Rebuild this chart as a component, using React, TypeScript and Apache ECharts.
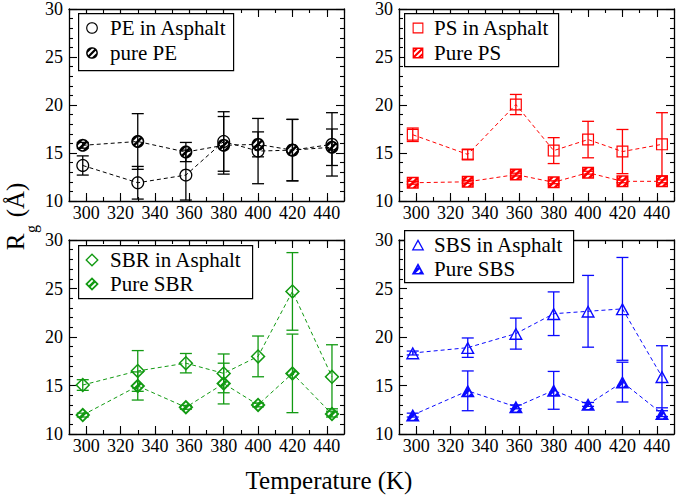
import React, { useEffect, useRef } from 'react';
import * as echarts from 'echarts';

// ---------- data ----------
const temps = [298, 330, 358, 380, 400, 420, 443];

const peAsphalt = [13.7, 11.9, 12.7, 16.2, 15.2, 15.3, 15.9];
const peAsphaltErr = [1.0, 1.7, 2.6, 3.1, 3.4, 3.2, 3.3];
const pePure = [15.8, 16.2, 15.1, 15.8, 15.9, 15.3, 15.6];
const pePureErr = [0.3, 2.9, 1.0, 3.0, 1.3, 3.2, 1.9];

const psAsphalt = [16.9, 14.85, 20.05, 15.25, 16.4, 15.15, 15.9];
const psAsphaltErr = [0.7, 0.5, 1.05, 1.35, 1.9, 2.3, 3.3];
const psPure = [11.9, 12.0, 12.75, 11.95, 12.95, 12.05, 12.05];
const psPureErr = [0.15, 0.15, 0.15, 0.15, 0.15, 0.15, 0.15];

const sbrAsphalt = [15.05, 16.5, 17.3, 16.25, 18.0, 24.7, 15.9];
const sbrAsphaltErr = [0.55, 2.1, 1.0, 2.0, 2.1, 4.0, 3.3];
const sbrPure = [11.95, 14.95, 12.75, 15.2, 13.0, 16.25, 12.05];
const sbrPureErr = [0.2, 1.45, 0.2, 2.1, 0.2, 4.05, 0.3];

const sbsAsphalt = [18.35, 18.9, 20.35, 22.4, 22.65, 22.9, 15.9];
const sbsAsphaltErr = [0.2, 1.0, 1.6, 2.25, 3.7, 5.3, 3.2];
const sbsPure = [11.95, 14.45, 12.8, 14.5, 13.05, 15.35, 12.1];
const sbsPureErr = [0.2, 2.05, 0.2, 1.95, 0.2, 2.05, 0.3];

// x tick grid (every 10 K, labels on multiples of 20)
const xCategories = ['290', '300', '310', '320', '330', '340', '350', '360', '370', '380', '390', '400', '410', '420', '430', '440', '450'];
const xLabelValues = ['300', '320', '340', '360', '380', '400', '420', '440'];

const legendNames = [
  ['PE in Asphalt', 'pure PE'],
  ['PS in Asphalt', 'Pure PS'],
  ['SBR in Asphalt', 'Pure SBR'],
  ['SBS in Asphalt', 'Pure SBS'],
];

const xTitle = 'Temperature (K)';

// ---------- styling / layout ----------
const FONT = 'Liberation Serif';

const panels = [
  { color: '#000000', shape: 'circle', size: 13, grid: { left: 69, top: 7, width: 275, height: 194 },
    legend: { x: 78, y: 13, w: 155, h: 57, mx: 92, tx: 110, rows: [28, 53] },
    asph: peAsphalt, asphErr: peAsphaltErr, pure: pePure, pureErr: pePureErr },
  { color: '#ff0000', shape: 'square', size: 12, grid: { left: 399, top: 7, width: 275, height: 194 },
    legend: { x: 404, y: 13, w: 154, h: 53, mx: 418, tx: 434, rows: [28, 53] },
    asph: psAsphalt, asphErr: psAsphaltErr, pure: psPure, pureErr: psPureErr },
  { color: '#129a12', shape: 'diamond', size: 15, grid: { left: 69, top: 240, width: 275, height: 194 },
    legend: { x: 78, y: 245, w: 174, h: 53, mx: 92, tx: 110, rows: [260, 284] },
    asph: sbrAsphalt, asphErr: sbrAsphaltErr, pure: sbrPure, pureErr: sbrPureErr },
  { color: '#0a0aff', shape: 'triangle', size: 14, grid: { left: 399, top: 240, width: 275, height: 194 },
    legend: { x: 404, y: 230, w: 169, h: 52, mx: 418, tx: 434, rows: [245, 269] },
    asph: sbsAsphalt, asphErr: sbsAsphaltErr, pure: sbsPure, pureErr: sbsPureErr },
];

// ---------- marker geometry (20x20 box) ----------
type P = [number, number];
function shapePoly(shape: string, inset: number): P[] {
  if (shape === 'circle') {
    const r = 9 - inset;
    const pts: P[] = [];
    for (let i = 0; i < 40; i++) {
      const a = (i / 40) * Math.PI * 2;
      pts.push([10 + r * Math.cos(a), 10 + r * Math.sin(a)]);
    }
    return pts;
  }
  if (shape === 'square') {
    const a = 1 + inset, b = 19 - inset;
    return [[a, a], [b, a], [b, b], [a, b]];
  }
  if (shape === 'diamond') {
    const h = 9 - inset * Math.SQRT2;
    return [[10, 10 - h], [10 + h, 10], [10, 10 + h], [10 - h, 10]];
  }
  const base: P[] = [[10, 1.5], [19, 18], [1, 18]];
  const rin = 5.343, cy = 18 - rin;
  const k = (rin - inset) / rin;
  return base.map(([x, y]) => [10 + (x - 10) * k, cy + (y - cy) * k] as P);
}
function area(poly: P[]): number {
  let s = 0;
  for (let i = 0; i < poly.length; i++) {
    const a = poly[i], b = poly[(i + 1) % poly.length];
    s += a[0] * b[1] - b[0] * a[1];
  }
  return s / 2;
}
function orient(poly: P[], sign: number): P[] {
  return area(poly) * sign >= 0 ? poly : poly.slice().reverse();
}
function clipHalf(poly: P[], f: (p: P) => number): P[] {
  const out: P[] = [];
  for (let i = 0; i < poly.length; i++) {
    const a = poly[i], b = poly[(i + 1) % poly.length];
    const fa = f(a), fb = f(b);
    if (fa >= 0) out.push(a);
    if ((fa >= 0) !== (fb >= 0)) {
      const t = fa / (fa - fb);
      out.push([a[0] + t * (b[0] - a[0]), a[1] + t * (b[1] - a[1])]);
    }
  }
  return out;
}
function polyD(poly: P[]): string {
  return poly.map((p, i) => (i ? 'L' : 'M') + p[0].toFixed(2) + ' ' + p[1].toFixed(2)).join(' ') + ' Z ';
}
function markerPath(shape: string, hatched: boolean): string {
  const t = hatched ? 2.3 : 1.8;
  const outer = orient(shapePoly(shape, 0), 1);
  const inner = orient(shapePoly(shape, t), -1);
  let d = polyD(outer) + polyD(inner);
  if (hatched) {
    const period = 9.4, half = 2.45;
    for (let c = 20 - 3 * period; c <= 20 + 3 * period; c += period) {
      let band = clipHalf(inner, (p) => p[0] + p[1] - (c - half));
      if (band.length < 3) continue;
      band = clipHalf(band, (p) => (c + half) - (p[0] + p[1]));
      if (band.length < 3) continue;
      d += polyD(orient(band, 1));
    }
  }
  return d;
}

function buildOption() {
  const grid: any[] = [];
  const xAxis: any[] = [];
  const yAxis: any[] = [];
  const series: any[] = [];
  const graphic: any[] = [];

  const axisLine = { show: true, onZero: false, lineStyle: { color: '#000', width: 1.3 } };

  panels.forEach((p, gi) => {
    grid.push({ ...p.grid, containLabel: false });
    const xBase = xAxis.length;
    ['bottom', 'top'].forEach((pos) => {
      xAxis.push({
        type: 'value', gridIndex: gi, position: pos, min: 290, max: 450, interval: 10,
        axisLine, axisTick: { show: true, inside: true, length: 4, lineStyle: { color: '#000', width: 1.1 } },
        axisLabel: { show: false }, splitLine: { show: false },
      });
    });
    ['bottom', 'top'].forEach((pos) => {
      xAxis.push({
        type: 'category', gridIndex: gi, position: pos, data: xCategories, boundaryGap: false,
        axisLine: { show: false },
        axisTick: { show: true, inside: true, length: 8, interval: (i: number) => xLabelValues.indexOf(xCategories[i]) >= 0, lineStyle: { color: '#000', width: 1.1 } },
        axisLabel: {
          show: pos === 'bottom', interval: (i: number) => xLabelValues.indexOf(xCategories[i]) >= 0,
          fontFamily: FONT, fontSize: 18, color: '#000', margin: 3,
        },
        splitLine: { show: false },
      });
    });
    const yBase = yAxis.length;
    ['left', 'right'].forEach((pos) => {
      yAxis.push({
        type: 'value', gridIndex: gi, position: pos, min: 10, max: 30, interval: 5,
        axisLine,
        axisTick: { show: true, inside: true, length: 8, lineStyle: { color: '#000', width: 1.1 } },
        minorTick: { show: true, splitNumber: 5, length: 4, lineStyle: { color: '#000', width: 1.1 } },
        axisLabel: { show: pos === 'left', fontFamily: FONT, fontSize: 18, color: '#000', margin: 6 },
        splitLine: { show: false }, minorSplitLine: { show: false },
      });
    });

    const sets = [
      { vals: p.asph, errs: p.asphErr, hatched: false, name: legendNames[gi][0] },
      { vals: p.pure, errs: p.pureErr, hatched: true, name: legendNames[gi][1] },
    ];
    sets.forEach((s, k) => {
      const d = markerPath(p.shape, s.hatched);
      const data = temps.map((t, i) => [t, s.vals[i], s.errs[i]]);
      series.push({
        type: 'custom', name: s.name + ' err', xAxisIndex: xBase, yAxisIndex: yBase, z: 2,
        data, encode: { x: 0, y: 1 }, silent: true,
        renderItem: (_params: any, api: any) => {
          const x = api.value(0), v = api.value(1), e = api.value(2);
          const top = api.coord([x, v + e]);
          const bot = api.coord([x, v - e]);
          const hw = 6;
          const style = { stroke: p.color, lineWidth: 1.3, fill: 'none' };
          return {
            type: 'group',
            children: [
              { type: 'line', shape: { x1: top[0], y1: top[1], x2: bot[0], y2: bot[1] }, style },
              { type: 'line', shape: { x1: top[0] - hw, y1: top[1], x2: top[0] + hw, y2: top[1] }, style },
              { type: 'line', shape: { x1: bot[0] - hw, y1: bot[1], x2: bot[0] + hw, y2: bot[1] }, style },
            ],
          };
        },
      });
      series.push({
        type: 'line', name: s.name, xAxisIndex: xBase, yAxisIndex: yBase, z: 3,
        data: temps.map((t, i) => [t, s.vals[i]]),
        symbol: 'path://' + d, symbolSize: p.size, showSymbol: true, symbolKeepAspect: true,
        lineStyle: { color: p.color, width: 1, type: [4, 3] },
        itemStyle: { color: p.color, borderWidth: 0 },
        silent: true,
      });
      echarts.graphic.registerShape(`mk_${gi}_${k}`, echarts.graphic.extendPath(d, {}) as any);
    });

    const L = p.legend;
    graphic.push({
      type: 'rect', left: L.x, top: L.y, z: 10,
      shape: { x: 0, y: 0, width: L.w, height: L.h },
      style: { fill: '#fff', stroke: '#000', lineWidth: 1.2 },
    });
    sets.forEach((s, k) => {
      const sz = p.size;
      const sc = sz / 20;
      graphic.push({
        type: `mk_${gi}_${k}`, z: 11, x: L.mx - sz / 2, y: L.rows[k] - sz / 2, scaleX: sc, scaleY: sc,
        style: { fill: p.color, stroke: 'none' },
      });
      graphic.push({
        type: 'text', z: 11, x: L.tx, y: L.rows[k],
        style: { text: s.name, fontFamily: FONT, fontSize: 21, fill: '#000', verticalAlign: 'middle', align: 'left' },
      });
    });
  });

  graphic.push({
    type: 'text', x: 15, y: 242, rotation: Math.PI / 2,
    style: { text: 'R', fontFamily: FONT, fontSize: 25, fill: '#000', align: 'center', verticalAlign: 'middle' },
  });
  graphic.push({
    type: 'text', x: 31, y: 229, rotation: Math.PI / 2,
    style: { text: 'g', fontFamily: FONT, fontSize: 16, fill: '#000', align: 'center', verticalAlign: 'middle' },
  });
  graphic.push({
    type: 'text', x: 15, y: 200, rotation: Math.PI / 2,
    style: { text: '(Å)', fontFamily: FONT, fontSize: 25, fill: '#000', align: 'center', verticalAlign: 'middle' },
  });

  return {
    animation: false,
    backgroundColor: '#fff',
    grid, xAxis, yAxis, series, graphic,
  };
}

export default function App() {
  const ref = useRef<HTMLDivElement>(null);
  useEffect(() => {
    if (!ref.current) return;
    const chart = echarts.init(ref.current, null, { renderer: 'svg' });
    chart.setOption(buildOption() as any);
    return () => chart.dispose();
  }, []);
  return (
    <div style={{ position: 'absolute', left: 0, top: 0, width: 676, height: 496 }}>
      <div ref={ref} style={{ width: 676, height: 496, position: 'absolute', left: 0, top: 0 }} />
      <div
        style={{
          position: 'absolute', left: 0, width: 658, top: 466, textAlign: 'center',
          fontFamily: FONT, fontSize: 25, lineHeight: '30px', color: '#000', pointerEvents: 'none',
        }}
      >
        {xTitle}
      </div>
    </div>
  );
}
